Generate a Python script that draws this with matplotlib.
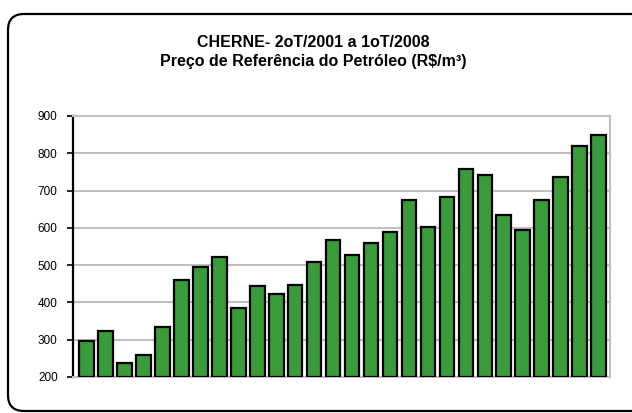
import numpy as np
import matplotlib.pyplot as plt
from matplotlib.patches import FancyBboxPatch

plt.rcParams['font.family'] = ['Liberation Sans', 'DejaVu Sans']

quarters = ['2T01', '3T01', '4T01',
            '1T02', '2T02', '3T02', '4T02',
            '1T03', '2T03', '3T03', '4T03',
            '1T04', '2T04', '3T04', '4T04',
            '1T05', '2T05', '3T05', '4T05',
            '1T06', '2T06', '3T06', '4T06',
            '1T07', '2T07', '3T07', '4T07',
            '1T08']
prices = [297, 322, 238, 259, 334, 459, 494, 522, 384, 443, 422, 447, 509, 568,
          526, 559, 589, 675, 601, 684, 759, 743, 635, 593, 675, 735, 819, 848]
yticks = [200, 300, 400, 500, 600, 700, 800, 900]

fig = plt.figure(figsize=(6.32, 4.13), dpi=100)
ax = fig.add_axes([0.1155, 0.0872, 0.85, 0.632])

x = np.arange(len(quarters))
ax.bar(x, [p - 200 for p in prices], bottom=200, width=0.78,
       color='#3a9b3a', edgecolor='black', linewidth=1.6, zorder=3)

ax.set_ylim(200, 900)
ax.set_xlim(-0.7, len(quarters) - 0.4)
ax.set_yticks(yticks)
ax.set_xticks([])
ax.tick_params(axis='y', labelsize=8.5, length=4, width=1.2, direction='out', pad=7)
ax.yaxis.grid(True, color='#c0c0c0', linewidth=1.5, zorder=0)
for s in ['top', 'right', 'bottom']:
    ax.spines[s].set_color('#c0c0c0')
    ax.spines[s].set_linewidth(1.5)
ax.spines['left'].set_linewidth(1.6)

fig.text(0.496, 0.896, 'CHERNE- 2oT/2001 a 1oT/2008', ha='center', va='center',
         fontsize=11.5, fontweight='bold')
fig.text(0.496, 0.850, 'Preço de Referência do Petróleo (R$/m³)', ha='center', va='center',
         fontsize=11.5, fontweight='bold')

# rounded frame, in inches; right side runs off the canvas
border = FancyBboxPatch((0.08, 0.02), 6.45, 3.97, boxstyle='round,pad=0,rounding_size=0.16',
                        transform=fig.dpi_scale_trans, facecolor='none', edgecolor='black',
                        linewidth=1.6, clip_on=False)
fig.patches.append(border)

fig.savefig('out.png', dpi=100)
